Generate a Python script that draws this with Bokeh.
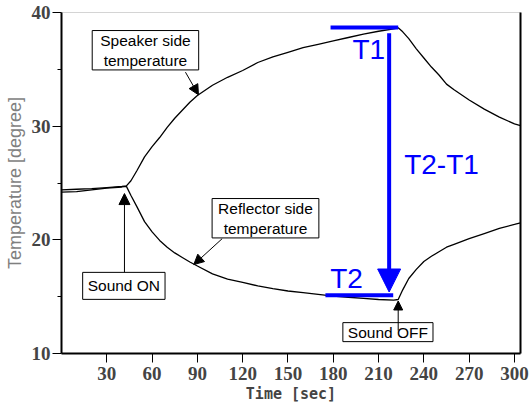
from bokeh.plotting import figure
from bokeh.models import Range1d, FixedTicker, LinearAxis, Label, Arrow, NormalHead
from bokeh.embed import file_html
from bokeh.resources import INLINE

# ---------------- data ----------------
time_s = [0, 10, 20, 30, 40, 43, 46, 50, 55, 60, 65, 70, 75, 80, 85, 90, 100, 110, 120,
          130, 140, 150, 160, 170, 180, 190, 200, 210, 220, 223, 226, 230, 235, 240, 245,
          250, 255, 260, 270, 280, 290, 300, 304]
speaker_temp = [24.4, 24.45, 24.5, 24.6, 24.7, 24.75, 25.2, 26.1, 27.3, 28.2, 29.0, 29.9,
                30.7, 31.4, 32.1, 32.7, 33.6, 34.3, 34.9, 35.6, 36.1, 36.5, 36.9, 37.2, 37.5,
                37.8, 38.1, 38.35, 38.55, 38.65, 38.3, 37.7, 36.8, 36.0, 35.2, 34.5, 33.7,
                33.2, 32.3, 31.5, 30.8, 30.2, 30.05]
reflector_temp = [24.2, 24.25, 24.4, 24.55, 24.65, 24.7, 23.9, 22.9, 21.6, 20.7, 19.95, 19.35,
                  18.85, 18.45, 18.05, 17.7, 17.0, 16.55, 16.25, 15.95, 15.7, 15.5, 15.35, 15.2,
                  15.05, 14.95, 14.85, 14.75, 14.7, 14.75, 15.6, 16.6, 17.4, 18.1, 18.55, 18.95,
                  19.35, 19.6, 20.1, 20.55, 21.0, 21.35, 21.5]

x_ticks = [30, 60, 90, 120, 150, 180, 210, 240, 270, 300]
y_ticks = [10, 20, 30, 40]
y_minor_ticks = [15, 25, 35]

x_title = "Time [sec]"
y_title = "Temperature [degree]"

T1_level = 38.67
T2_level = 15.12

# ---------------- figure ----------------
p = figure(width=532, height=410, output_backend="svg", toolbar_location=None,
           x_range=Range1d(0, 304), y_range=Range1d(10, 40),
           min_border_left=61, min_border_right=12, min_border_top=12, min_border_bottom=57)
p.xgrid.visible = False
p.ygrid.visible = False
p.outline_line_color = "#d4d4d4"
p.background_fill_color = "white"

p.line(time_s, speaker_temp, line_color="black", line_width=1.3)
p.line(time_s, reflector_temp, line_color="black", line_width=1.3)

tick_font = "Liberation Sans Narrow"
for ax in p.xaxis:
    ax.ticker = FixedTicker(ticks=x_ticks)
    ax.axis_line_width = 2
    ax.major_tick_out = 9
    ax.major_tick_in = 0
    ax.minor_tick_line_color = None
    ax.minor_tick_out = 0
    ax.major_label_text_font = tick_font
    ax.major_label_text_font_style = "bold"
    ax.major_label_text_font_size = "19px"
    ax.major_label_standoff = 4
    ax.axis_label = x_title
    ax.axis_label_text_font = "DejaVu Sans Mono"
    ax.axis_label_text_font_style = "bold"
    ax.axis_label_text_font_size = "15px"
    ax.axis_label_standoff = 2

for ax in p.yaxis:
    ax.ticker = FixedTicker(ticks=y_ticks, minor_ticks=y_minor_ticks)
    ax.axis_line_width = 2
    ax.major_tick_out = 9
    ax.major_tick_in = 0
    ax.minor_tick_out = 4
    ax.minor_tick_in = 0
    ax.major_label_text_font = tick_font
    ax.major_label_text_font_style = "bold"
    ax.major_label_text_font_size = "19px"
    ax.major_label_standoff = 2
    ax.axis_label = y_title
    ax.axis_label_text_font = "Liberation Sans"
    ax.axis_label_text_font_style = "normal"
    ax.axis_label_text_font_size = "18px"
    ax.axis_label_text_color = "#7f7f7f"
    ax.axis_label_standoff = 4

right_axis = LinearAxis(ticker=FixedTicker(ticks=[]), axis_line_width=2,
                        major_tick_line_color=None, minor_tick_line_color=None,
                        major_tick_out=0, minor_tick_out=0, major_label_standoff=0,
                        major_label_text_font_size="0px")
p.add_layout(right_axis, "right")

# ---------------- annotations ----------------
def box_label(x, y, text, pl, pr, pt, pb):
    return Label(x=x, y=y, text=text, text_align="center", text_baseline="middle",
                 text_font="Liberation Sans", text_font_size="15.5px", text_color="black",
                 border_line_color="black", border_line_width=1,
                 background_fill_color="white",
                 padding=dict(left=pl, right=pr, top=pt, bottom=pb))

p.add_layout(box_label(55.6, 36.68, "Speaker side\ntemperature", 8, 8, 1, 1))
p.add_layout(box_label(135.1, 21.9, "Reflector side\ntemperature", 6, 6, 1, 1))
p.add_layout(box_label(41.3, 15.95, "Sound ON", 5, 5, 5, 5))
p.add_layout(box_label(216.2, 11.88, "Sound OFF", 5, 5, 1, 1))

def black_arrow(xs, ys, xe, ye, size):
    return Arrow(end=NormalHead(size=size, fill_color="black", line_color="black", line_width=1),
                 x_start=xs, y_start=ys, x_end=xe, y_end=ye,
                 line_color="black", line_width=1)

p.add_layout(black_arrow(82.1, 34.75, 90.7, 32.76, 10))
p.add_layout(black_arrow(106.4, 20.1, 87.6, 17.82, 10))
p.add_layout(black_arrow(41.7, 17.15, 41.7, 24.07, 11))
p.add_layout(black_arrow(223.0, 12.02, 223.0, 14.62, 9))

blue = "#0000ff"
p.segment(x0=[178.2, 174.8], y0=[T1_level, T2_level], x1=[223.0, 219.7], y1=[T1_level, T2_level],
          line_color=blue, line_width=4)
p.add_layout(Arrow(end=NormalHead(size=23, fill_color=blue, line_color=blue, line_width=1),
                   x_start=217.0, y_start=38.17, x_end=217.0, y_end=15.41,
                   line_color=blue, line_width=4))

def blue_text(x, y, text):
    return Label(x=x, y=y, text=text, text_align="center", text_baseline="middle",
                 text_font="Liberation Sans", text_font_size="28px", text_color=blue)

p.add_layout(blue_text(203.5, 36.75, "T1"))
p.add_layout(blue_text(251.7, 26.6, "T2-T1"))
p.add_layout(blue_text(188.8, 16.62, "T2"))

open("out.html", "w").write(file_html(p, INLINE))
